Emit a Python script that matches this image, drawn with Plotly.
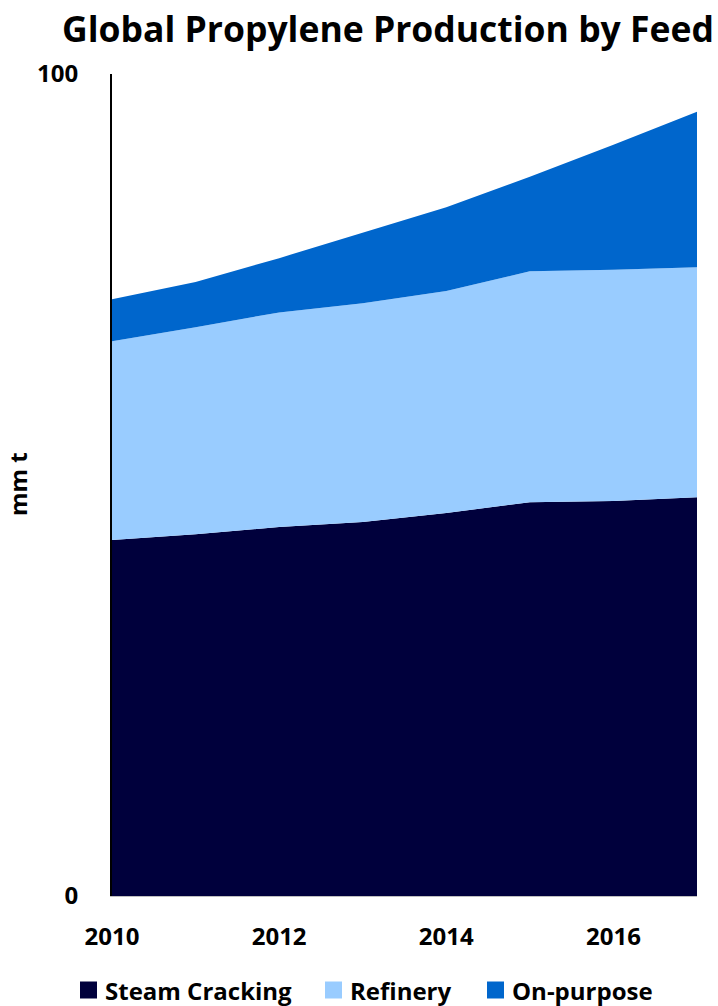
import plotly.graph_objects as go

# Global propylene output by feedstock, million tonnes
years = [2010, 2011, 2012, 2013, 2014, 2015, 2016, 2017]
steam_cracking = [43.3, 44.0, 44.9, 45.5, 46.6, 47.9, 48.05, 48.5]
refinery = [24.2, 25.2, 26.1, 26.6, 27.0, 28.1, 28.15, 28.0]
on_purpose = [5.1, 5.5, 6.6, 8.6, 10.2, 11.5, 15.2, 18.9]

series = [
    ("Steam Cracking", steam_cracking, "#00003C"),
    ("Refinery", refinery, "#99CCFF"),
    ("On-purpose", on_purpose, "#0066CC"),
]

FONT = "Open Sans"
W, H = 718, 1006
M_L, M_R, M_T, M_B = 112, 21, 74, 110
PW, PH = W - M_L - M_R, H - M_T - M_B


def px_x(px):
    """Pixel column -> paper x."""
    return (px - M_L) / PW


def px_y(py):
    """Pixel row -> paper y."""
    return 1 - (py - M_T) / PH


fig = go.Figure()
for name, vals, color in series:
    fig.add_trace(go.Scatter(
        x=years, y=vals, name=name, mode="lines",
        stackgroup="feed", line=dict(width=0, color=color),
        fillcolor=color, showlegend=False,
    ))

# legend row below the axis: square swatch followed by a bold label
legend_left = [80, 325, 487]
legend_row = 990
swatch = 17
shapes, annotations = [], []
for (name, _, color), left in zip(series, legend_left):
    shapes.append(dict(
        type="rect", xref="paper", yref="paper",
        x0=px_x(left), x1=px_x(left + swatch),
        y0=px_y(legend_row + swatch / 2), y1=px_y(legend_row - swatch / 2),
        fillcolor=color, line=dict(width=0),
    ))
    annotations.append(dict(
        text=f"<b>{name}</b>", x=px_x(left + swatch + 6), y=px_y(legend_row),
        xref="paper", yref="paper", xanchor="left", yanchor="middle",
        showarrow=False, font=dict(size=24, family=FONT, color="black"),
    ))

annotations.append(dict(
    text="<b>mm t</b>", textangle=-90,
    x=px_x(18), xref="paper", xanchor="center",
    y=px_y(484), yref="paper", yanchor="middle",
    showarrow=False, font=dict(size=24, family=FONT, color="black"),
))

fig.update_layout(
    width=W, height=H,
    margin=dict(l=M_L, r=M_R, t=M_T, b=M_B),
    paper_bgcolor="white", plot_bgcolor="white",
    font=dict(family=FONT, color="black"),
    showlegend=False,
    title=dict(
        text="<b>Global Propylene Production by Feed</b>",
        x=388 / W, xanchor="center", y=1 - 30 / H, yanchor="middle",
        font=dict(size=35.5, family=FONT, color="black"),
    ),
    xaxis=dict(
        range=[2010, 2017], tickvals=[2010, 2012, 2014, 2016],
        ticktext=["<b>2010</b>", "<b>2012</b>", "<b>2014</b>", "<b>2016</b>"],
        tickfont=dict(size=24, family=FONT), showgrid=False,
        showline=True, linecolor="#BFBFBF", linewidth=1,
        ticks="", ticklabelstandoff=19, zeroline=False, automargin=False,
    ),
    yaxis=dict(
        range=[0, 100], tickvals=[0, 100],
        ticktext=["<b>0</b>", "<b>100</b>"],
        tickfont=dict(size=24, family=FONT),
        showline=True, linecolor="black", linewidth=2,
        showgrid=True, gridcolor="#C8C8C8", griddash="dot", gridwidth=1,
        ticks="", ticklabelstandoff=27, zeroline=False, automargin=False,
    ),
    shapes=shapes,
    annotations=annotations,
)

fig.write_html("out.html")
